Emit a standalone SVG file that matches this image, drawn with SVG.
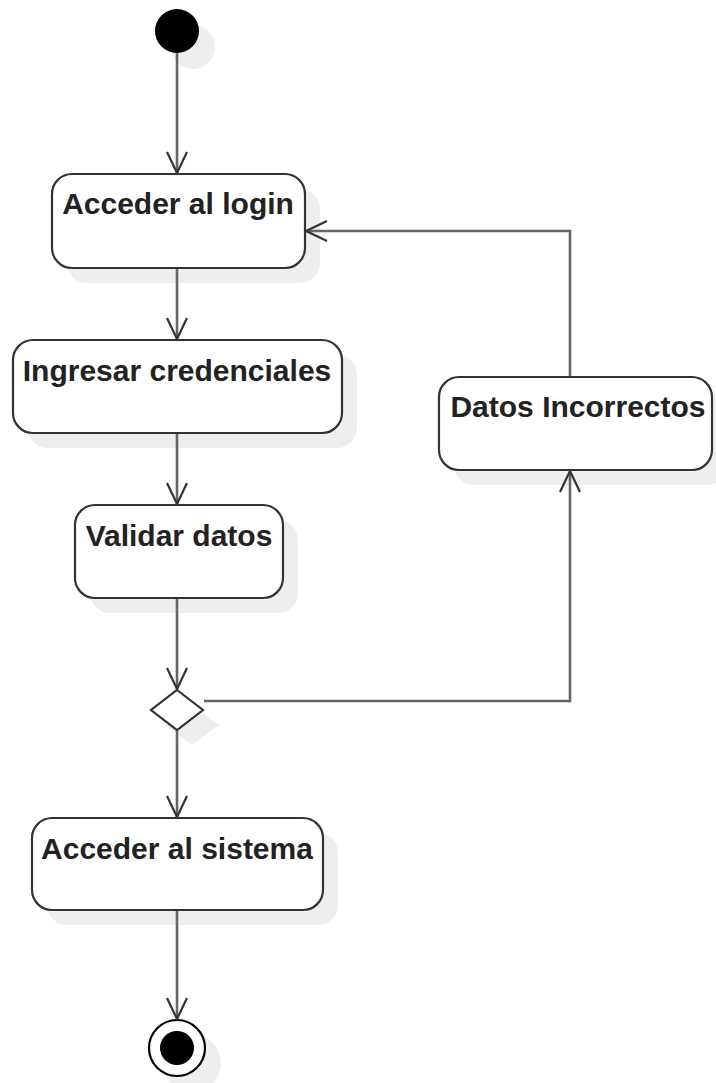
<svg xmlns="http://www.w3.org/2000/svg" width="716" height="1083" viewBox="0 0 716 1083">
<defs>
<style>
.box{fill:#ffffff;stroke:#333333;stroke-width:2.2}
.sh{fill:#eeeeee;stroke:none}
.lbl{font-family:"Liberation Sans",Arial,sans-serif;font-weight:bold;font-size:30px;fill:#222222;text-anchor:middle}
.edge{fill:none;stroke:#666666;stroke-width:2.6}
</style>
<marker id="arr" markerWidth="26" markerHeight="26" refX="22" refY="11" orient="auto" markerUnits="userSpaceOnUse">
<path d="M1,1 L22,11 L1,21" fill="none" stroke="#333333" stroke-width="2.2"/>
</marker>
</defs>
<rect width="716" height="1083" fill="#ffffff"/>
<g id="start">
<circle class="sh" cx="193" cy="47" r="22"/>
<circle cx="177" cy="31" r="22" fill="#000000"/>
</g>
<g id="acceder-login">
<rect class="sh" x="67" y="189" width="253" height="94" rx="20"/>
<rect class="box" x="52" y="174" width="253" height="94" rx="20"/>
<text class="lbl" x="178" y="214">Acceder al login</text>
</g>
<g id="ingresar">
<rect class="sh" x="28" y="355" width="329" height="93" rx="20"/>
<rect class="box" x="13" y="340" width="329" height="93" rx="20"/>
<text class="lbl" x="177" y="381">Ingresar credenciales</text>
</g>
<g id="datos-incorrectos">
<rect class="sh" x="454" y="392" width="273" height="93" rx="20"/>
<rect class="box" x="439" y="377" width="273" height="93" rx="20"/>
<text class="lbl" x="578" y="417">Datos Incorrectos</text>
</g>
<g id="validar">
<rect class="sh" x="90" y="520" width="208" height="93" rx="20"/>
<rect class="box" x="75" y="505" width="208" height="93" rx="20"/>
<text class="lbl" x="179" y="546">Validar datos</text>
</g>
<g id="decision">
<path class="sh" d="M192,705 L219,725 L192,745 L165,725 Z"/>
<path class="box" d="M177,690 L203,710 L177,730 L151,710 Z"/>
</g>
<g id="acceder-sistema">
<rect class="sh" x="47" y="833" width="291" height="92" rx="20"/>
<rect class="box" x="32" y="818" width="291" height="92" rx="20"/>
<text class="lbl" x="177" y="859">Acceder al sistema</text>
</g>
<g id="end">
<circle class="sh" cx="192" cy="1063" r="29"/>
<circle cx="177" cy="1048" r="28" fill="#ffffff" stroke="#000000" stroke-width="2.2"/>
<circle cx="177" cy="1048" r="17" fill="#000000"/>
</g>
<g id="connectors">
<path class="edge" d="M177,53 L177,173" marker-end="url(#arr)"/>
<path class="edge" d="M177,269 L177,339" marker-end="url(#arr)"/>
<path class="edge" d="M177,434 L177,504" marker-end="url(#arr)"/>
<path class="edge" d="M177,599 L177,689" marker-end="url(#arr)"/>
<path class="edge" d="M177,731 L177,817" marker-end="url(#arr)"/>
<path class="edge" d="M177,911 L177,1019" marker-end="url(#arr)"/>
<path class="edge" d="M204,701 L570,701 L570,471" marker-end="url(#arr)"/>
<path class="edge" d="M570,376 L570,231 L306,231" marker-end="url(#arr)"/>
</g>
</svg>
